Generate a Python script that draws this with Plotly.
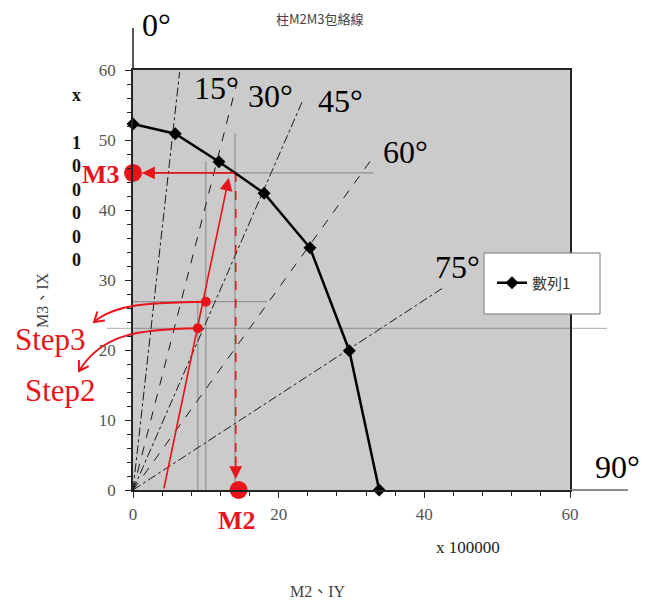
import math
import plotly.graph_objects as go

# ---------------- data ----------------
title_text = "柱M2M3包絡線"
series_name = "數列1"
env_x = [0, 5.8, 11.8, 18.0, 24.3, 29.7, 33.8]
env_y = [52.3, 50.9, 46.9, 42.4, 34.6, 19.9, 0]

guide_labels = ["15°", "30°", "45°", "60°", "75°"]
guide_end_x = [6.4, 14.3, 23.2, 33.0, 42.6]
guide_end_y = [59.7, 58.3, 55.4, 47.6, 28.9]
guide_dash = ["dashdot", "dash", "dashdot", "dash", "dashdot"]

m3_y = 45.3
m2_x = 14.5
cross_x = 14.1
load_x = [4.2, 13.15]
load_y = [0, 44.6]
step_names = ["Step3", "Step2"]
step_x = [10.0, 8.9]
step_y = [26.9, 23.1]

pencil_h_y = [45.3, 26.9]
pencil_h_x_end = [33.0, 18.4]
pencil_v_x = [8.9, 10.0, 14.0]
pencil_v_y_end = [27.0, 47.0, 51.0]

x_tick_vals = [0, 20, 40, 60]
y_tick_vals = [0, 10, 20, 30, 40, 50, 60]
axis_max = 60

# ---------------- layout geometry (reference pixel space) ----------------
PAGE_W, PAGE_H = 660, 606
BODY = 8  # default page margin of the html body
L, R, T, B = 133, 570, 70, 490


def pp(xp, yp):
    """reference pixel -> paper fraction"""
    return ((xp - L) / (R - L), (B - yp) / (B - T))


def dpx(x, y):
    """data -> reference pixel"""
    return (L + x / axis_max * (R - L), B - y / axis_max * (B - T))


SERIF = "Liberation Serif, Times New Roman, serif"
CJK = "Noto Sans CJK TC, Noto Sans CJK SC, sans-serif"
RED = "#e8141b"

fig = go.Figure()

# radial guide lines
for ex, ey, dsh in zip(guide_end_x, guide_end_y, guide_dash):
    fig.add_trace(go.Scatter(x=[0, ex], y=[0, ey], mode="lines",
                             line=dict(color="#1a1a1a", width=1, dash=dsh),
                             showlegend=False, hoverinfo="skip"))

# faint pencil helper lines
for hy, hx in zip(pencil_h_y, pencil_h_x_end):
    fig.add_trace(go.Scatter(x=[0, hx], y=[hy, hy], mode="lines",
                             line=dict(color="rgba(60,60,60,0.4)", width=1.2),
                             showlegend=False, hoverinfo="skip"))
for vx, vy in zip(pencil_v_x, pencil_v_y_end):
    fig.add_trace(go.Scatter(x=[vx, vx], y=[0, vy], mode="lines",
                             line=dict(color="rgba(60,60,60,0.4)", width=1.2),
                             showlegend=False, hoverinfo="skip"))

# red dashed vertical from intersection down to M2
fig.add_trace(go.Scatter(x=[cross_x, cross_x], y=[m3_y, 4], mode="lines",
                         line=dict(color=RED, width=1.6, dash="dash"),
                         showlegend=False, hoverinfo="skip"))

# envelope series
fig.add_trace(go.Scatter(x=env_x, y=env_y, mode="lines+markers", name=series_name,
                         line=dict(color="black", width=2.5),
                         marker=dict(symbol="diamond", size=10, color="black"),
                         cliponaxis=False))

# red dots
fig.add_trace(go.Scatter(x=[0, m2_x], y=[m3_y, 0], mode="markers",
                         marker=dict(color=RED, size=18),
                         cliponaxis=False, showlegend=False, hoverinfo="skip"))
fig.add_trace(go.Scatter(x=step_x, y=step_y, mode="markers",
                         marker=dict(color=RED, size=10),
                         cliponaxis=False, showlegend=False, hoverinfo="skip"))

annotations = []
# arrows (data referenced)
annotations.append(dict(x=load_x[1], y=load_y[1], ax=load_x[0], ay=load_y[0],
                        xref="x", yref="y", axref="x", ayref="y", text="",
                        showarrow=True, arrowhead=2, arrowsize=1.6, arrowwidth=1.6,
                        arrowcolor=RED))
annotations.append(dict(x=0, y=m3_y, ax=cross_x, ay=m3_y,
                        xref="x", yref="y", axref="x", ayref="y", text="",
                        showarrow=True, arrowhead=2, arrowsize=1.6, arrowwidth=1.6,
                        arrowcolor=RED, standoff=9))
annotations.append(dict(x=cross_x, y=0, ax=cross_x, ay=5,
                        xref="x", yref="y", axref="x", ayref="y", text="",
                        showarrow=True, arrowhead=2, arrowsize=1.6, arrowwidth=1.6,
                        arrowcolor=RED, standoff=11))


def txt(text, xp, yp, size, color="black", family=SERIF, angle=0, bold=False):
    px, py = pp(xp, yp)
    if bold:
        text = "<b>" + text + "</b>"
    annotations.append(dict(x=px, y=py, xref="paper", yref="paper", text=text,
                            showarrow=False, xanchor="center", yanchor="middle",
                            textangle=angle,
                            font=dict(size=size, color=color, family=family)))


# angle labels
txt("0°", 156, 25, 32)
deg_pos = [(216, 88), (270, 96), (340, 101), (405, 152), (457, 267)]
for lab, (xp, yp) in zip(guide_labels, deg_pos):
    txt(lab, xp, yp, 32)
txt("90°", 617, 467, 32)

# titles / axis texts
txt(title_text, 320, 18, 13, color="#444", family=CJK)
txt("x 100000", 468, 547, 17, color="#222")
txt("M2、IY", 318, 591, 16, color="#444", family=SERIF + ", " + CJK)
txt("M3、IX", 42, 300, 16, color="#444", family=SERIF + ", " + CJK, angle=-90)
for ch, yp in zip(["x", "1", "0", "0", "0", "0", "0"], [95, 143, 166, 190, 213, 237, 260]):
    txt(ch, 76, yp, 18, color="#111", bold=True)

# red labels
txt("M3", 101, 174, 26, color=RED, bold=True)
txt("M2", 237, 520, 26, color=RED, bold=True)
txt(step_names[0], 50, 339, 31, color=RED)
txt(step_names[1], 60, 390, 31, color=RED)

shapes = []
# extended axis lines (0° and 90°)
_, ytop = pp(L, 28)
shapes.append(dict(type="line", xref="paper", yref="paper", x0=0, x1=0, y0=1, y1=ytop,
                   line=dict(color="#222", width=1.5)))
xr, _ = pp(628, B)
shapes.append(dict(type="line", xref="paper", yref="paper", x0=1, x1=xr, y0=0, y1=0,
                   line=dict(color="#666", width=1.5)))
# long pencil line through Step2 level
ly = step_y[1] / axis_max
shapes.append(dict(type="line", xref="paper", yref="paper", x0=pp(107, 0)[0], x1=pp(607, 0)[0],
                   y0=ly, y1=ly, line=dict(color="rgba(60,60,60,0.35)", width=1.2)))
# legend box
lx0, ly0 = pp(484, 314)
lx1, ly1 = pp(600, 253)
shapes.append(dict(type="rect", xref="paper", yref="paper", x0=lx0, x1=lx1, y0=ly0, y1=ly1,
                   fillcolor="white", line=dict(color="#777", width=1), layer="above"))


def curve_arrow(p0, c1, c2, p3):
    pts = [pp(*p) for p in (p0, c1, c2, p3)]
    d = "M {:.4f},{:.4f} C {:.4f},{:.4f} {:.4f},{:.4f} {:.4f},{:.4f}".format(
        pts[0][0], pts[0][1], pts[1][0], pts[1][1], pts[2][0], pts[2][1], pts[3][0], pts[3][1])
    shapes.append(dict(type="path", xref="paper", yref="paper", path=d,
                       line=dict(color=RED, width=2)))
    dx, dy = p3[0] - c2[0], p3[1] - c2[1]
    n = math.hypot(dx, dy)
    bx, by = -dx / n, -dy / n
    arms = []
    for a in (math.radians(32), math.radians(-32)):
        rx = bx * math.cos(a) - by * math.sin(a)
        ry = bx * math.sin(a) + by * math.cos(a)
        arms.append(pp(p3[0] + 11 * rx, p3[1] + 11 * ry))
    tip = pp(*p3)
    d2 = "M {:.4f},{:.4f} L {:.4f},{:.4f} L {:.4f},{:.4f}".format(
        arms[0][0], arms[0][1], tip[0], tip[1], arms[1][0], arms[1][1])
    shapes.append(dict(type="path", xref="paper", yref="paper", path=d2,
                       line=dict(color=RED, width=2)))


s3 = dpx(step_x[0], step_y[0])
s2 = dpx(step_x[1], step_y[1])
curve_arrow(s3, (150, s3[1] + 1), (116, s3[1] + 2), (94, 322))
curve_arrow(s2, (140, s2[1] + 1), (102, s2[1] + 5), (79, 371))

axis_common = dict(range=[0, axis_max], showgrid=False, zeroline=False,
                   showline=True, linecolor="#222", linewidth=1.5, mirror=True,
                   ticks="outside", tickcolor="#222", ticklen=6,
                   tickfont=dict(family=SERIF, size=17, color="#555"),
                   fixedrange=True, automargin=False)

fig.update_layout(
    template="none",
    width=PAGE_W - BODY, height=PAGE_H - BODY, autosize=False,
    margin=dict(l=L - BODY, r=PAGE_W - R, t=T - BODY, b=PAGE_H - B, pad=0),
    paper_bgcolor="white", plot_bgcolor="#cbcbcb",
    xaxis=dict(**axis_common, tickvals=x_tick_vals,
               minor=dict(dtick=4, ticks="outside", ticklen=4, tickcolor="#222"),
               ticklabelstandoff=2),
    yaxis=dict(**axis_common, tickvals=y_tick_vals,
               minor=dict(dtick=2, ticks="outside", ticklen=4, tickcolor="#222"),
               ticklabelstandoff=6),
    showlegend=True,
    legend=dict(x=pp(492, 0)[0], y=pp(0, 283)[1], xanchor="left", yanchor="middle",
                bgcolor="rgba(0,0,0,0)", borderwidth=0,
                font=dict(family=CJK, size=15, color="#333")),
    annotations=annotations, shapes=shapes,
)

fig.write_html("out.html")
